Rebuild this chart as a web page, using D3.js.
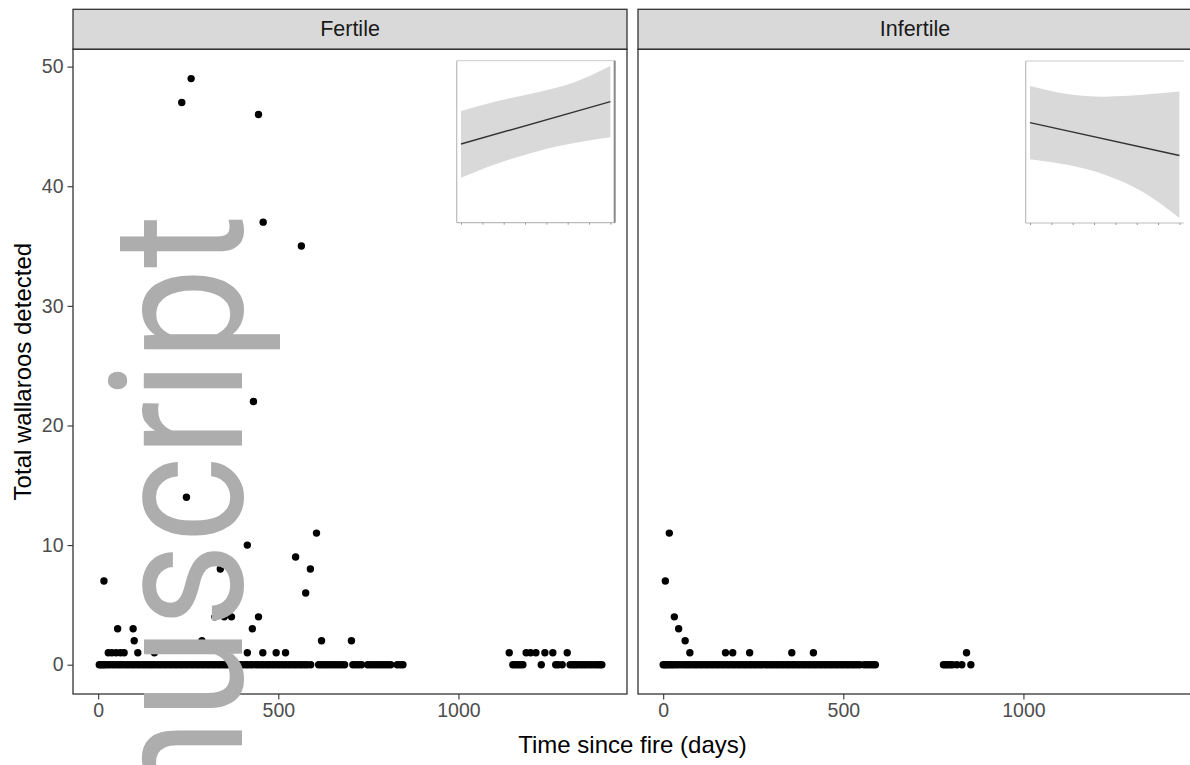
<!DOCTYPE html>
<html>
<head>
<meta charset="utf-8">
<script src="https://cdn.jsdelivr.net/npm/d3@7"></script>
<style>
  body { margin: 0; background: #fff; }
  svg { display: block; font-family: "Liberation Sans", Arial, sans-serif; }
</style>
</head>
<body>
<div id="chart"></div>
<script>
// Facets
const facets = ["Fertile", "Infertile"];

// Fertile sites: days since fire with zero wallaroos
const fertileZeroDays = [3, 8, 13, 18, 25, 32, 40, 47, 55, 62, 70, 78, 85, 93, 100, 108, 115, 123, 130, 138,
  145, 152, 160, 168, 175, 183, 190, 198, 205, 213, 220, 228, 235, 243, 250, 258, 265, 273, 280, 288,
  295, 303, 310, 318, 325, 333, 340, 348, 355, 363, 370, 378, 385, 393, 400, 408, 415, 423, 430, 438,
  445, 453, 460, 468, 475, 483, 490, 498, 505, 513, 520, 528, 535, 543, 550, 558, 565, 573, 580, 590,
  612, 620, 628, 636, 644, 652, 660, 668, 676, 684, 707, 715, 723, 731, 748, 756, 764, 772, 780, 788,
  796, 804, 812, 830, 838, 846,
  1151, 1158, 1165, 1172, 1179, 1230, 1270, 1277, 1288, 1310, 1317, 1324, 1331, 1339, 1346, 1353,
  1361, 1369, 1377, 1385, 1392, 1398];
// Fertile sites: days and counts above zero
const fertileDays   = [16, 28, 38, 50, 62, 72, 54, 97, 100, 110, 156, 232, 258, 245, 270, 288, 324, 339, 350, 370,
  414, 414, 428, 431, 445, 445, 457, 458, 494, 520, 548, 564, 576, 589, 606, 620, 703,
  1141, 1188, 1200, 1215, 1240, 1262, 1302];
const fertileCounts = [7, 1, 1, 1, 1, 1, 3, 3, 2, 1, 1, 47, 49, 14, 7, 2, 4, 8, 4, 4,
  10, 1, 3, 22, 46, 4, 1, 37, 1, 1, 9, 35, 6, 8, 11, 2, 2,
  1, 1, 1, 1, 1, 1, 1];

// Infertile sites
const infertileZeroDays = [0, 5, 10, 16, 22, 28, 35, 42, 50, 58, 65, 72, 80, 88, 95, 103, 110, 118, 125, 133,
  140, 148, 155, 163, 170, 178, 185, 193, 200, 208, 215, 223, 230, 238, 245, 253, 260, 268, 275, 283,
  290, 298, 305, 313, 320, 328, 335, 343, 350, 358, 365, 373, 380, 388, 395, 403, 410, 418, 425, 433,
  440, 448, 455, 463, 470, 478, 485, 493, 500, 508, 515, 523, 530, 538, 546, 558, 566, 574, 582, 589,
  778, 784, 790, 797, 803, 815, 829, 854];
const infertileDays   = [6, 17, 31, 43, 61, 74, 173, 193, 240, 357, 417, 842];
const infertileCounts = [7, 11, 4, 3, 2, 1, 1, 1, 1, 1, 1, 1];

// Inset model fits (relative units)
const insetX = [0, 0.25, 0.5, 0.75, 1];
const fertileUpper   = [0.690, 0.753, 0.802, 0.864, 0.967];
const fertileLower   = [0.278, 0.367, 0.438, 0.490, 0.527];
const fertileFit     = [0.486, 0.747];
const infertileUpper = [0.846, 0.797, 0.780, 0.791, 0.811];
const infertileLower = [0.394, 0.359, 0.298, 0.195, 0.031];
const infertileFit   = [0.620, 0.417];

const yTicks = [0, 10, 20, 30, 40, 50];
const xTicks = [0, 500, 1000];

// Layout
const W = 1190, H = 765;
const panelW = 554;
const panelLeft = [73, 638];
const stripTop = 9.3, panelTop = 49.3, panelBottom = 694;
const insetPos = [{x: 383.7, y: 11.4}, {x: 387.7, y: 11.7}];
const insetW = 158, insetH = 162;

const panels = [
  {name: facets[0],
   pts: fertileZeroDays.map(d => ({day: d, n: 0})).concat(fertileDays.map((d, i) => ({day: d, n: fertileCounts[i]}))),
   upper: fertileUpper, lower: fertileLower, fit: fertileFit},
  {name: facets[1],
   pts: infertileZeroDays.map(d => ({day: d, n: 0})).concat(infertileDays.map((d, i) => ({day: d, n: infertileCounts[i]}))),
   upper: infertileUpper, lower: infertileLower, fit: infertileFit}
];

const allPts = panels.flatMap(p => p.pts);
const dx = d3.extent(allPts, d => d.day), dy = d3.extent(allPts, d => d.n);
const ex = (dx[1] - dx[0]) * 0.05, ey = (dy[1] - dy[0]) * 0.05;

const x = d3.scaleLinear().domain([dx[0] - ex, dx[1] + ex]).range([0, panelW]);
const y = d3.scaleLinear().domain([dy[0] - ey, dy[1] + ey]).range([panelBottom, panelTop]);

const svg = d3.select("#chart").append("svg")
  .attr("width", W).attr("height", H);

svg.append("rect").attr("width", W).attr("height", H).attr("fill", "#fff");

const ix = d3.scaleLinear().domain([0, 1]).range([4.3, insetW - 4.3]);
const iy = d3.scaleLinear().domain([0, 1]).range([insetH, 0]);

const pointLayers = [];

panels.forEach((p, k) => {
  const g = svg.append("g").attr("transform", `translate(${panelLeft[k]},0)`);

  // strip
  g.append("rect")
    .attr("x", 0).attr("y", stripTop)
    .attr("width", panelW).attr("height", panelTop - stripTop)
    .attr("fill", "#d9d9d9").attr("stroke", "#333").attr("stroke-width", 1.3);
  g.append("text")
    .attr("x", panelW / 2).attr("y", (stripTop + panelTop) / 2)
    .attr("text-anchor", "middle").attr("dominant-baseline", "central")
    .attr("font-size", "21.5px").attr("fill", "#1a1a1a")
    .text(p.name);

  // panel border
  g.append("rect")
    .attr("x", 0).attr("y", panelTop)
    .attr("width", panelW).attr("height", panelBottom - panelTop)
    .attr("fill", "none").attr("stroke", "#333").attr("stroke-width", 1.3);

  // x axis
  const xa = g.append("g").attr("transform", `translate(0,${panelBottom})`)
    .call(d3.axisBottom(x).tickValues(xTicks).tickFormat(d3.format("d")).tickSize(5.5).tickPadding(4));
  xa.select(".domain").remove();
  xa.selectAll("line").attr("stroke", "#333").attr("stroke-width", 1.1);
  xa.selectAll("text").attr("fill", "#4d4d4d").attr("font-size", "19.5px")
    .attr("font-family", "Liberation Sans, Arial, sans-serif");

  if (k === 0) {
    const ya = g.append("g")
      .call(d3.axisLeft(y).tickValues(yTicks).tickSize(5.5).tickPadding(4));
    ya.select(".domain").remove();
    ya.selectAll("line").attr("stroke", "#333").attr("stroke-width", 1.1);
    ya.selectAll("text").attr("fill", "#4d4d4d").attr("font-size", "19.5px")
      .attr("font-family", "Liberation Sans, Arial, sans-serif");
  }

  // inset
  const ins = g.append("g").attr("transform", `translate(${insetPos[k].x},${panelTop + insetPos[k].y})`);
  const band = insetX.map((v, i) => ({x: v, lo: p.lower[i], hi: p.upper[i]}));
  ins.append("path")
    .datum(band)
    .attr("fill", "#d9d9d9")
    .attr("d", d3.area().curve(d3.curveMonotoneX)
      .x(d => ix(d.x)).y0(d => iy(d.lo)).y1(d => iy(d.hi)));
  ins.append("line")
    .attr("x1", ix(0)).attr("x2", ix(1))
    .attr("y1", iy(p.fit[0])).attr("y2", iy(p.fit[1]))
    .attr("stroke", "#333").attr("stroke-width", 1.4);
  ins.append("line").attr("x1", 0).attr("x2", insetW).attr("y1", 0).attr("y2", 0)
    .attr("stroke", "#ccc").attr("stroke-width", 1);
  ins.append("line").attr("x1", 0).attr("x2", 0).attr("y1", 0).attr("y2", insetH)
    .attr("stroke", "#bbb").attr("stroke-width", 1.2);
  ins.append("line").attr("x1", 0).attr("x2", insetW).attr("y1", insetH).attr("y2", insetH)
    .attr("stroke", "#bbb").attr("stroke-width", 1.2);
  if (k === 0) {
    ins.append("line").attr("x1", insetW).attr("x2", insetW).attr("y1", 0).attr("y2", insetH)
      .attr("stroke", "#888").attr("stroke-width", 2);
  }
  const ia = ins.append("g").attr("transform", `translate(0,${insetH})`)
    .call(d3.axisBottom(ix).tickValues(d3.range(8).map(i => i / 7)).tickSize(2).tickFormat(""));
  ia.select(".domain").remove();
  ia.selectAll("line").attr("stroke", "#999");

  pointLayers.push({g, p});
});

// watermark
svg.append("text")
  .attr("transform", "translate(242,214) rotate(-90) scale(1,1.12)")
  .attr("text-anchor", "end")
  .attr("font-family", "Roboto, sans-serif")
  .attr("font-size", "165px")
  .attr("fill", "#adadad")
  .text("Manuscript");

// points
pointLayers.forEach(({g, p}) => {
  g.append("g").selectAll("circle")
    .data(p.pts)
    .enter().append("circle")
    .attr("cx", d => x(d.day))
    .attr("cy", d => y(d.n))
    .attr("r", 3.7)
    .attr("fill", "#000");
});

// axis titles
svg.append("text")
  .attr("x", (panelLeft[0] + panelLeft[1] + panelW) / 2).attr("y", 753)
  .attr("text-anchor", "middle").attr("font-size", "24px").attr("fill", "#000")
  .text("Time since fire (days)");
svg.append("text")
  .attr("transform", `translate(31,${(panelTop + panelBottom) / 2}) rotate(-90)`)
  .attr("text-anchor", "middle").attr("font-size", "24px").attr("fill", "#000")
  .text("Total wallaroos detected");
</script>
</body>
</html>
